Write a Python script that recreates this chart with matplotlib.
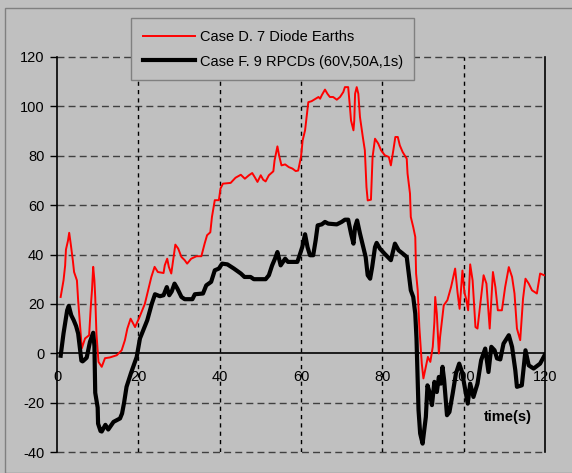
import matplotlib
matplotlib.use("Agg")
import matplotlib.pyplot as plt
from matplotlib.patches import Rectangle

# ---------------- data ----------------
red_label = "Case D. 7 Diode Earths"
black_label = "Case F. 9 RPCDs (60V,50A,1s)"

red_t = [0.9, 1.6, 2.0, 2.2, 2.7, 3.0, 3.4, 3.9, 4.2, 4.9, 5.2, 5.7, 6.1, 6.9, 7.9, 8.3, 8.6, 8.9,
         9.2, 9.4, 9.7, 10.2, 11.0, 11.8, 13.0, 14.7, 15.9, 16.7, 17.3, 18.1, 19.2, 20.3, 21.6,
         22.4, 23.2, 24.0, 24.8, 26.2, 26.5, 27.1, 27.5, 28.1, 28.5, 29.1, 29.8, 30.6, 31.4, 32.0,
         33.0, 34.3, 35.5, 36.3, 36.9, 37.7, 38.1, 38.8, 39.8, 40.2, 40.8, 42.7, 43.9, 45.2, 46.2,
         47.2, 48.0, 48.6, 49.3, 50.1, 50.7, 51.3, 52.1, 53.2, 53.5, 54.2, 54.6, 55.2, 56.1, 57.0,
         57.9, 58.7, 59.3, 60.0, 60.4, 61.0, 61.8, 62.6, 63.6, 64.3, 64.7, 65.1, 65.9, 66.5, 67.1,
         67.9, 68.8, 69.6, 70.4, 70.8, 71.6, 72.0, 72.3, 72.9, 73.1, 73.3, 73.7, 74.1, 74.5, 75.2,
         75.7, 76.1, 76.4, 77.2, 77.6, 78.2, 79.0, 79.7, 80.6, 81.6, 82.1, 82.7, 83.2, 83.8, 84.3,
         85.0, 86.0, 86.2, 86.8, 87.0, 87.6, 88.1, 88.3, 88.7, 89.1, 89.7, 90.1, 90.6, 91.2, 91.8,
         92.4, 92.8, 93.0, 93.4, 93.9, 94.2, 94.8, 95.1, 96.0, 96.9, 97.9, 98.5, 99.0, 99.7, 100.2,
         100.6, 101.1, 101.6, 102.2, 102.9, 103.4, 104.1, 104.9, 105.6, 106.4, 107.2, 107.8, 108.4,
         109.4, 110.2, 111.1, 111.9, 112.5, 113.1, 113.9, 114.6, 115.2, 116.0, 116.8, 118.0, 118.8,
         119.8]
red_v = [22.8, 29.5, 35.5, 42.0, 45.6, 48.8, 44.0, 37.5, 32.9, 29.5, 21.4, 10.6, 2.0, 6.0, 7.3, 18.7,
         25.5, 35.0, 29.5, 22.8, 8.0, -3.5, -5.5, -2.0, -1.7, -0.8, 1.2, 5.3, 10.0, 14.0, 10.6, 14.7,
         20.0, 25.5, 30.9, 35.0, 32.9, 32.5, 35.6, 38.3, 35.0, 32.3, 37.0, 44.0, 42.4, 39.0, 37.7,
         36.3, 38.3, 39.3, 39.3, 44.4, 47.8, 49.0, 55.2, 62.0, 62.0, 66.7, 68.7, 69.0, 71.1, 72.3,
         70.7, 72.1, 73.0, 71.4, 69.4, 72.1, 70.3, 69.6, 72.1, 73.7, 78.1, 83.8, 80.2, 76.1, 76.5,
         75.4, 74.8, 73.8, 74.0, 79.5, 86.2, 90.3, 101.7, 102.1, 103.1, 103.8, 103.1, 104.5, 106.8,
         105.1, 103.8, 103.8, 102.7, 103.8, 105.8, 107.8, 107.8, 100.4, 94.3, 90.3, 94.3, 105.1,
         107.8, 105.1, 95.7, 87.6, 82.2, 67.3, 61.9, 62.2, 79.5, 86.9, 84.9, 82.2, 80.2, 79.5, 76.1,
         82.2, 87.6, 87.6, 84.2, 81.5, 78.8, 72.8, 64.7, 55.2, 51.1, 47.1, 32.3, 25.5, 10.6, -4.2,
         -10.2, -6.2, -1.5, -3.5, 2.6, 12.7, 22.8, 16.0, -0.1, 6.6, 15.4, 19.4, 21.5, 26.8, 34.3,
         24.5, 18.0, 33.5, 24.5, 22.1, 17.4, 36.0, 29.5, 10.6, 10.0, 20.1, 31.6, 28.2, 10.0, 32.9,
         26.8, 17.4, 17.4, 26.8, 34.9, 30.9, 24.2, 10.0, 5.3, 22.1, 30.2, 28.2, 25.5, 24.2, 32.3,
         31.6]

black_t = [0.9, 1.6, 2.5, 2.9, 3.5, 4.1, 4.7, 5.2, 6.0, 6.3, 7.3, 8.1, 8.9, 9.2, 9.4, 10.0, 10.1,
           10.7, 11.0, 11.9, 12.6, 13.9, 15.5, 16.0, 16.5, 17.1, 18.2, 19.6, 20.4, 21.2, 22.2, 23.3,
           24.1, 25.3, 26.2, 27.0, 27.6, 28.2, 28.9, 29.6, 30.6, 31.4, 33.3, 33.9, 35.9, 36.7, 37.9,
           38.8, 39.8, 40.6, 41.9, 43.5, 45.2, 46.1, 47.6, 48.4, 51.3, 52.1, 52.9, 53.6, 54.2, 55.0,
           56.1, 56.8, 59.1, 59.8, 60.3, 61.0, 61.6, 62.2, 63.0, 63.6, 64.1, 65.1, 65.9, 66.7, 68.8,
           70.0, 70.8, 71.6, 72.3, 72.9, 73.3, 73.8, 74.5, 75.3, 75.9, 76.4, 77.0, 77.5, 78.2, 78.6,
           79.4, 80.5, 82.1, 83.1, 84.0, 85.0, 86.0, 86.6, 87.0, 87.6, 88.1, 88.4, 88.7, 88.9, 89.3,
           89.9, 90.3, 90.7, 91.1, 91.7, 92.2, 92.8, 93.4, 93.9, 94.4, 94.8, 95.2, 95.6, 95.9, 96.5,
           97.3, 98.1, 98.9, 99.6, 100.2, 101.0, 101.6, 102.4, 103.4, 104.3, 105.3, 106.1, 106.8,
           107.6, 108.2, 109.0, 109.8, 111.1, 111.9, 112.7, 113.1, 114.3, 115.2, 116.0, 117.2, 118.8,
           120.0]
black_v = [-1.0, 8.0, 17.4, 19.2, 15.4, 13.4, 11.0, 8.0, -3.0, -3.3, -1.8, 4.6, 8.3, 3.0, -16.0,
           -22.0, -28.5, -31.5, -31.7, -29.0, -30.9, -27.8, -26.4, -24.4, -20.0, -13.6, -8.0, -1.5,
           6.0, 9.3, 13.4, 20.0, 23.9, 23.1, 23.5, 26.8, 23.5, 25.0, 28.2, 26.2, 22.8, 21.9, 21.9,
           23.9, 24.2, 27.5, 28.9, 33.6, 34.3, 36.3, 36.0, 34.3, 32.3, 30.9, 30.9, 30.0, 30.0, 31.6,
           35.6, 38.3, 41.0, 35.6, 38.3, 37.0, 37.0, 40.4, 43.0, 48.2, 43.0, 39.7, 39.7, 45.7, 51.8,
           52.2, 53.2, 52.5, 52.2, 53.2, 54.1, 54.1, 48.5, 44.4, 51.1, 53.8, 48.5, 43.0, 39.0, 31.6,
           30.2, 34.9, 43.0, 44.7, 42.4, 40.4, 37.7, 44.4, 41.7, 40.4, 39.0, 30.9, 25.5, 22.8, 16.0,
           6.0, -10.9, -23.0, -32.5, -36.6, -31.2, -25.8, -13.0, -16.3, -21.0, -11.6, -15.7, -9.6,
           -12.3, -5.5, -10.9, -19.0, -25.1, -23.8, -16.3, -8.2, -4.2, -7.6, -13.0, -20.4, -12.3,
           -17.7, -12.3, -2.8, 1.9, -7.6, 2.6, 1.2, -2.1, -2.5, 3.9, 7.3, 2.6, -6.9, -13.6, -13.0,
           1.2, -4.9, -6.2, -4.2, -0.5]

x_ticks = [0, 20, 40, 60, 80, 100, 120]
y_ticks = [-40, -20, 0, 20, 40, 60, 80, 100, 120]
x_label = "time(s)"

# ---------------- figure ----------------
W, H = 572, 473
BG = "#C0C0C0"
plt.rcParams["font.family"] = ["Liberation Sans", "DejaVu Sans"]

fig = plt.figure(figsize=(W / 100, H / 100), dpi=100, facecolor=BG)
# outer chart border
fig.patches.append(Rectangle((5 / W, 0), 1.0, 1 - 8 / H, transform=fig.transFigure,
                             fill=False, edgecolor="#808080", linewidth=1.0))

ax = fig.add_axes([57 / W, (H - 452) / H, (545 - 57) / W, (452 - 57) / H])
ax.set_facecolor(BG)
ax.set_xlim(0, 120)
ax.set_ylim(-40, 120)

# grid lines
for yv in y_ticks:
    if yv == 0:
        continue
    ax.axhline(yv, color="#404040", linestyle=(0, (5, 3)), linewidth=1.0, zorder=1, clip_on=False)
for xv in x_ticks[1:-1]:
    ax.axvline(xv, color="black", linestyle=(0, (3, 3)), linewidth=1.0, zorder=1)
ax.axhline(0, color="black", linewidth=1.2, zorder=2)

ax.plot(red_t, red_v, color="#FF0000", linewidth=1.4, zorder=3, label=red_label)
ax.plot(black_t, black_v, color="black", linewidth=3.0, zorder=4, label=black_label,
        solid_joinstyle="round")

# spines
for s in ["top", "bottom"]:
    ax.spines[s].set_visible(False)
ax.spines["left"].set_linewidth(1.2)
ax.spines["right"].set_linewidth(1.2)

ax.set_yticks(y_ticks)
ax.set_yticklabels([str(v) for v in y_ticks])
ax.tick_params(axis="y", direction="out", length=5, width=1, labelsize=10.5, pad=4)
ax.set_xticks([])
for xv in x_ticks:
    ax.text(xv, -6.8, str(xv), ha="center", va="top", fontsize=10.5, zorder=5)

ax.text(0.923, 0.089, x_label, transform=ax.transAxes, ha="center", va="center",
        fontsize=10.5, fontweight="bold", zorder=5)

leg = fig.legend(loc="upper left", bbox_to_anchor=(131 / W, 1 - 18 / H), borderaxespad=0,
                 frameon=True, fancybox=False, edgecolor="#808080", facecolor=BG, framealpha=1,
                 fontsize=10.5, handlelength=3.6, handletextpad=0.3, labelspacing=0.75,
                 borderpad=0.8)
leg.get_frame().set_linewidth(1.0)

fig.savefig("out.png", dpi=100, facecolor=BG)
